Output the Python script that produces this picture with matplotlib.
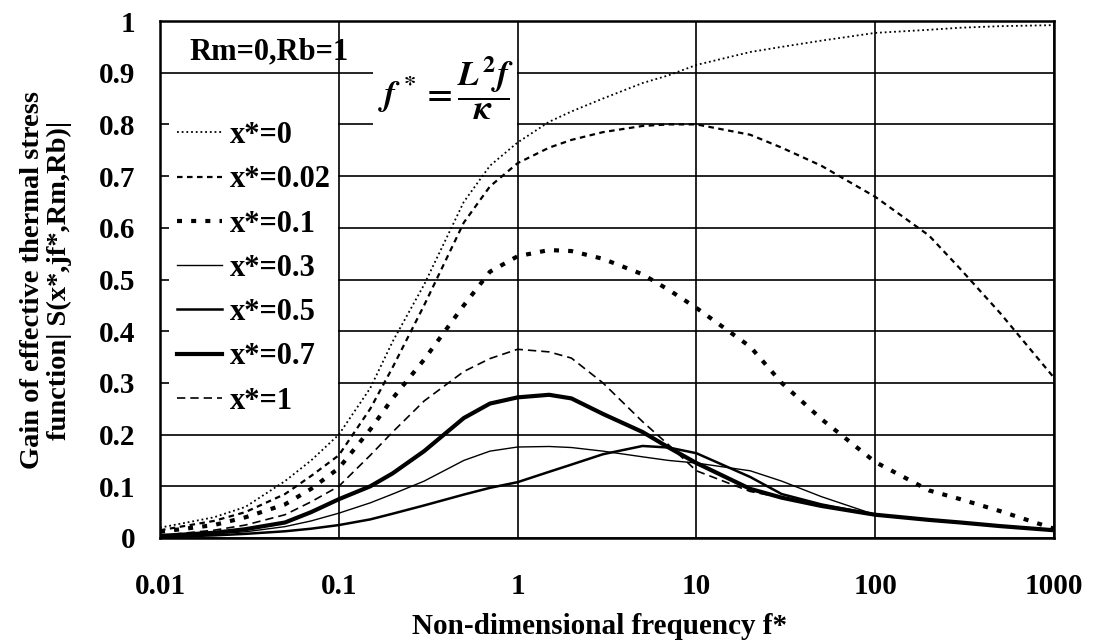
import matplotlib
matplotlib.use("Agg")
import matplotlib.pyplot as plt
from matplotlib.patches import Rectangle
import numpy as np

# ---------------- data ----------------
freq = [0.01, 0.02, 0.03, 0.05, 0.07, 0.1, 0.15, 0.2, 0.3, 0.5, 0.7, 1, 1.5, 2, 3, 5, 7,
        10, 20, 30, 50, 100, 200, 300, 500, 1000]

gain_x0 = [0.02, 0.04, 0.06, 0.11, 0.15, 0.20, 0.29, 0.38, 0.49, 0.65, 0.72, 0.765, 0.805, 0.825,
           0.85, 0.88, 0.895, 0.915, 0.94, 0.95, 0.962, 0.977, 0.983, 0.987, 0.99, 0.992]
gain_x002 = [0.015, 0.033, 0.05, 0.085, 0.12, 0.16, 0.25, 0.33, 0.45, 0.61, 0.68, 0.725, 0.755, 0.77,
             0.785, 0.797, 0.80, 0.80, 0.78, 0.755, 0.72, 0.66, 0.585, 0.52, 0.435, 0.31]
gain_x01 = [0.012, 0.025, 0.04, 0.065, 0.095, 0.135, 0.21, 0.27, 0.345, 0.45, 0.515, 0.545, 0.557, 0.555,
            0.54, 0.51, 0.48, 0.445, 0.37, 0.30, 0.23, 0.147, 0.092, 0.075, 0.052, 0.018]
gain_x03 = [0.003, 0.008, 0.012, 0.022, 0.033, 0.048, 0.068, 0.085, 0.11, 0.15, 0.168, 0.176, 0.177, 0.175,
            0.168, 0.157, 0.15, 0.145, 0.13, 0.11, 0.08, 0.045, 0.035, 0.03, 0.023, 0.015]
gain_x05 = [0.002, 0.005, 0.008, 0.013, 0.018, 0.025, 0.036, 0.047, 0.063, 0.084, 0.097, 0.108, 0.128, 0.142,
            0.162, 0.178, 0.175, 0.164, 0.118, 0.085, 0.065, 0.045, 0.035, 0.03, 0.023, 0.015]
gain_x07 = [0.004, 0.01, 0.017, 0.03, 0.05, 0.075, 0.10, 0.125, 0.168, 0.232, 0.26, 0.272, 0.277, 0.27,
            0.24, 0.205, 0.175, 0.145, 0.095, 0.078, 0.062, 0.045, 0.035, 0.03, 0.023, 0.015]
gain_x1 = [0.005, 0.015, 0.025, 0.045, 0.07, 0.10, 0.16, 0.205, 0.265, 0.322, 0.347, 0.365, 0.36, 0.348,
           0.30, 0.225, 0.18, 0.13, 0.09, 0.078, 0.062, 0.045, 0.035, 0.03, 0.023, 0.015]

labels = ["x*=0", "x*=0.02", "x*=0.1", "x*=0.3", "x*=0.5", "x*=0.7", "x*=1"]
yticks = [0, 0.1, 0.2, 0.3, 0.4, 0.5, 0.6, 0.7, 0.8, 0.9, 1]
ytick_labels = ["0", "0.1", "0.2", "0.3", "0.4", "0.5", "0.6", "0.7", "0.8", "0.9", "1"]
xticks = [0.01, 0.1, 1, 10, 100, 1000]
xtick_labels = ["0.01", "0.1", "1", "10", "100", "1000"]

# ---------------- style ----------------
plt.rcParams["font.family"] = ["Liberation Serif", "DejaVu Serif"]
plt.rcParams["font.weight"] = "bold"
plt.rcParams["mathtext.fontset"] = "stix"

W, H = 1094, 643
fig = plt.figure(figsize=(W / 100, H / 100), dpi=100)
L, R, T, B = 160, 1054, 21, 538
ax = fig.add_axes([L / W, 1 - B / H, (R - L) / W, (B - T) / H])

series = [gain_x0, gain_x002, gain_x01, gain_x03, gain_x05, gain_x07, gain_x1]
styles = [
    dict(lw=1.3, ls=(0, (1.0, 1.6))),
    dict(lw=1.6, ls=(0, (2.5, 2.0))),
    dict(lw=3.0, ls=(0, (1.2, 2.2))),
    dict(lw=1.0, ls="-"),
    dict(lw=1.8, ls="-"),
    dict(lw=3.0, ls="-"),
    dict(lw=1.2, ls=(0, (5, 3))),
]
handles = []
for vals, st, lab in zip(series, styles, labels):
    h, = ax.plot(freq, vals, color="black", label=lab, zorder=3, **st)
    handles.append(h)

ax.set_xscale("log")
ax.set_xlim(0.01, 1000)
ax.set_ylim(0, 1)
ax.set_xticks(xticks)
ax.set_xticklabels(xtick_labels)
ax.set_yticks(yticks)
ax.set_yticklabels(ytick_labels)
ax.minorticks_off()
ax.tick_params(axis="both", labelsize=21, length=0)
ax.tick_params(axis="x", pad=25)
ax.tick_params(axis="y", pad=18)
ax.grid(True, color="black", lw=1.2)
ax.set_axisbelow(True)
for s in ax.spines.values():
    s.set_linewidth(1.8)

# white areas (legend and formula backgrounds)
def px_rect(x0, y0, x1, y1):
    fx0 = (x0 - L) / (R - L)
    fx1 = (x1 - L) / (R - L)
    fy0 = (B - y1) / (B - T)
    fy1 = (B - y0) / (B - T)
    return Rectangle((fx0, fy0), fx1 - fx0, fy1 - fy0, transform=ax.transAxes,
                     facecolor="white", edgecolor="none", zorder=1.5)

ax.add_patch(px_rect(169, 76, 338, 412))
ax.add_patch(px_rect(373, 22, 517, 136))

leg = ax.legend(handles=handles, loc="upper left",
                bbox_to_anchor=((177 - L) / (R - L), (B - 121) / (B - T)),
                frameon=False, fontsize=22, handlelength=1.47, handletextpad=0.26,
                labelspacing=0.5, borderpad=0, borderaxespad=0)
leg.set_zorder(4)

ax.text((269 - L) / (R - L), (B - 52) / (B - T), "Rm=0,Rb=1", transform=ax.transAxes,
        ha="center", va="center", fontsize=22, fontweight="bold", zorder=4)
ax.text((446 - L) / (R - L), (B - 88) / (B - T), r"$f^* = \dfrac{L^2 f}{\kappa}$",
        transform=ax.transAxes, ha="center", va="center", fontsize=25,
        fontweight="normal", zorder=4)

ax.set_xlabel("Non-dimensional frequency f*", fontsize=21, fontweight="bold")
ax.xaxis.set_label_coords((600 - L) / (R - L), (B - 627) / (B - T))
ax.xaxis.label.set_va("center")
fig.text(46 / W, 1 - 280 / H, "Gain of effective thermal stress\nfunction| S(x*,jf*,Rm,Rb)|",
         rotation=90, ha="center", va="center", fontsize=20.5, fontweight="bold",
         linespacing=1.1, multialignment="center")

fig.savefig("out.png", dpi=100)
